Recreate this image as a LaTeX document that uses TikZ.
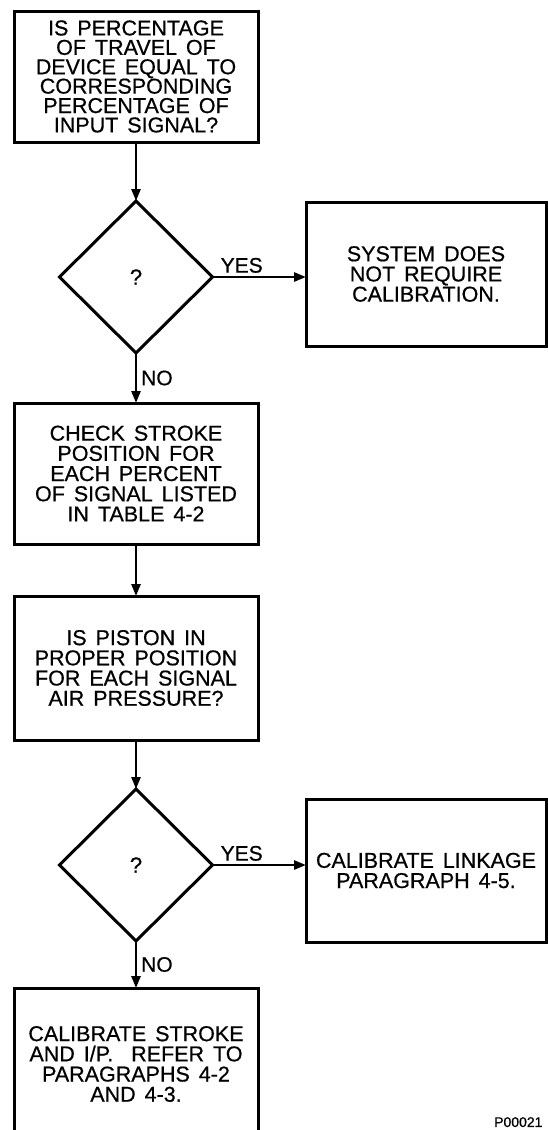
\documentclass[tikz,border=0pt]{standalone}
\usepackage{fontspec}
\setmainfont{Liberation Sans}[WordSpace=1.5,FakeBold=0.6]
\usetikzlibrary{shapes.geometric,arrows.meta,calc}
\begin{document}
\begin{tikzpicture}[x=1pt,y=-1pt,
  box/.style={draw,line width=3pt,rectangle,inner sep=0pt,outer sep=0pt,align=center,font=\fontsize{21.5}{20.2}\selectfont},
  dec/.style={draw,line width=3pt,diamond,inner sep=0pt,outer sep=0pt,minimum width=153pt,minimum height=152pt,font=\fontsize{22}{22}\selectfont},
  flow/.style={line width=2.6pt,-{Triangle[length=12pt,width=9pt]}},
  lbl/.style={font=\fontsize{21}{21}\selectfont,inner sep=0pt}]
\useasboundingbox (0,0) rectangle (548,1130);
\clip (0,0) rectangle (548,1130);
\fill[white] (0,0) rectangle (548,1130);

\node[box,minimum width=244pt,minimum height=131pt,font=\fontsize{21.5}{19.4}\selectfont] (b1) at (136,76.5)
  {IS PERCENTAGE\\OF TRAVEL OF\\DEVICE EQUAL TO\\CORRESPONDING\\PERCENTAGE OF\\INPUT SIGNAL?};
\node[dec] (d1) at (136,277) {?};
\node[box,minimum width=240pt,minimum height=144pt] (r1) at (426,274)
  {SYSTEM DOES\\NOT REQUIRE\\CALIBRATION.};
\node[box,minimum width=244pt,minimum height=141pt] (b2) at (136,473.5)
  {CHECK STROKE\\POSITION FOR\\EACH PERCENT\\OF SIGNAL LISTED\\IN TABLE 4-2};
\node[box,minimum width=244pt,minimum height=144pt] (b3) at (136,668)
  {IS PISTON IN\\PROPER POSITION\\FOR EACH SIGNAL\\AIR PRESSURE?};
\node[dec] (d2) at (136,865) {?};
\node[box,minimum width=240pt,minimum height=143pt] (r2) at (426,870.5)
  {CALIBRATE LINKAGE\\PARAGRAPH 4-5.};
\node[box,minimum width=244pt,minimum height=152pt] (b4) at (136,1064)
  {CALIBRATE STROKE\\AND I/P.\ \ REFER TO\\PARAGRAPHS 4-2\\AND 4-3.};

\draw[flow] (b1.south) -- (d1.north);
\draw[flow] (d1.east) -- (d1.east -| r1.west);
\draw[flow] (d1.south) -- (b2.north);
\draw[flow] (b2.south) -- (b3.north);
\draw[flow] (b3.south) -- (d2.north);
\draw[flow] (d2.east) -- (d2.east -| r2.west);
\draw[flow] (d2.south) -- (b4.north);

\node[lbl,anchor=south west] (y1) at ([xshift=8pt,yshift=4pt]d1.east) {YES};
\node[lbl,anchor=south west] (y2) at ([xshift=8pt,yshift=4pt]d2.east) {YES};
\node[lbl,anchor=west] (n1) at ($(d1.south)!0.5!(b2.north)+(5,0)$) {NO};
\node[lbl,anchor=west] (n2) at ($(d2.south)!0.5!(b4.north)+(5,0)$) {NO};
\node[font=\fontsize{14}{14}\selectfont,inner sep=0pt,anchor=north west] (pid) at (494,1117) {P00021};
\end{tikzpicture}
\end{document}
